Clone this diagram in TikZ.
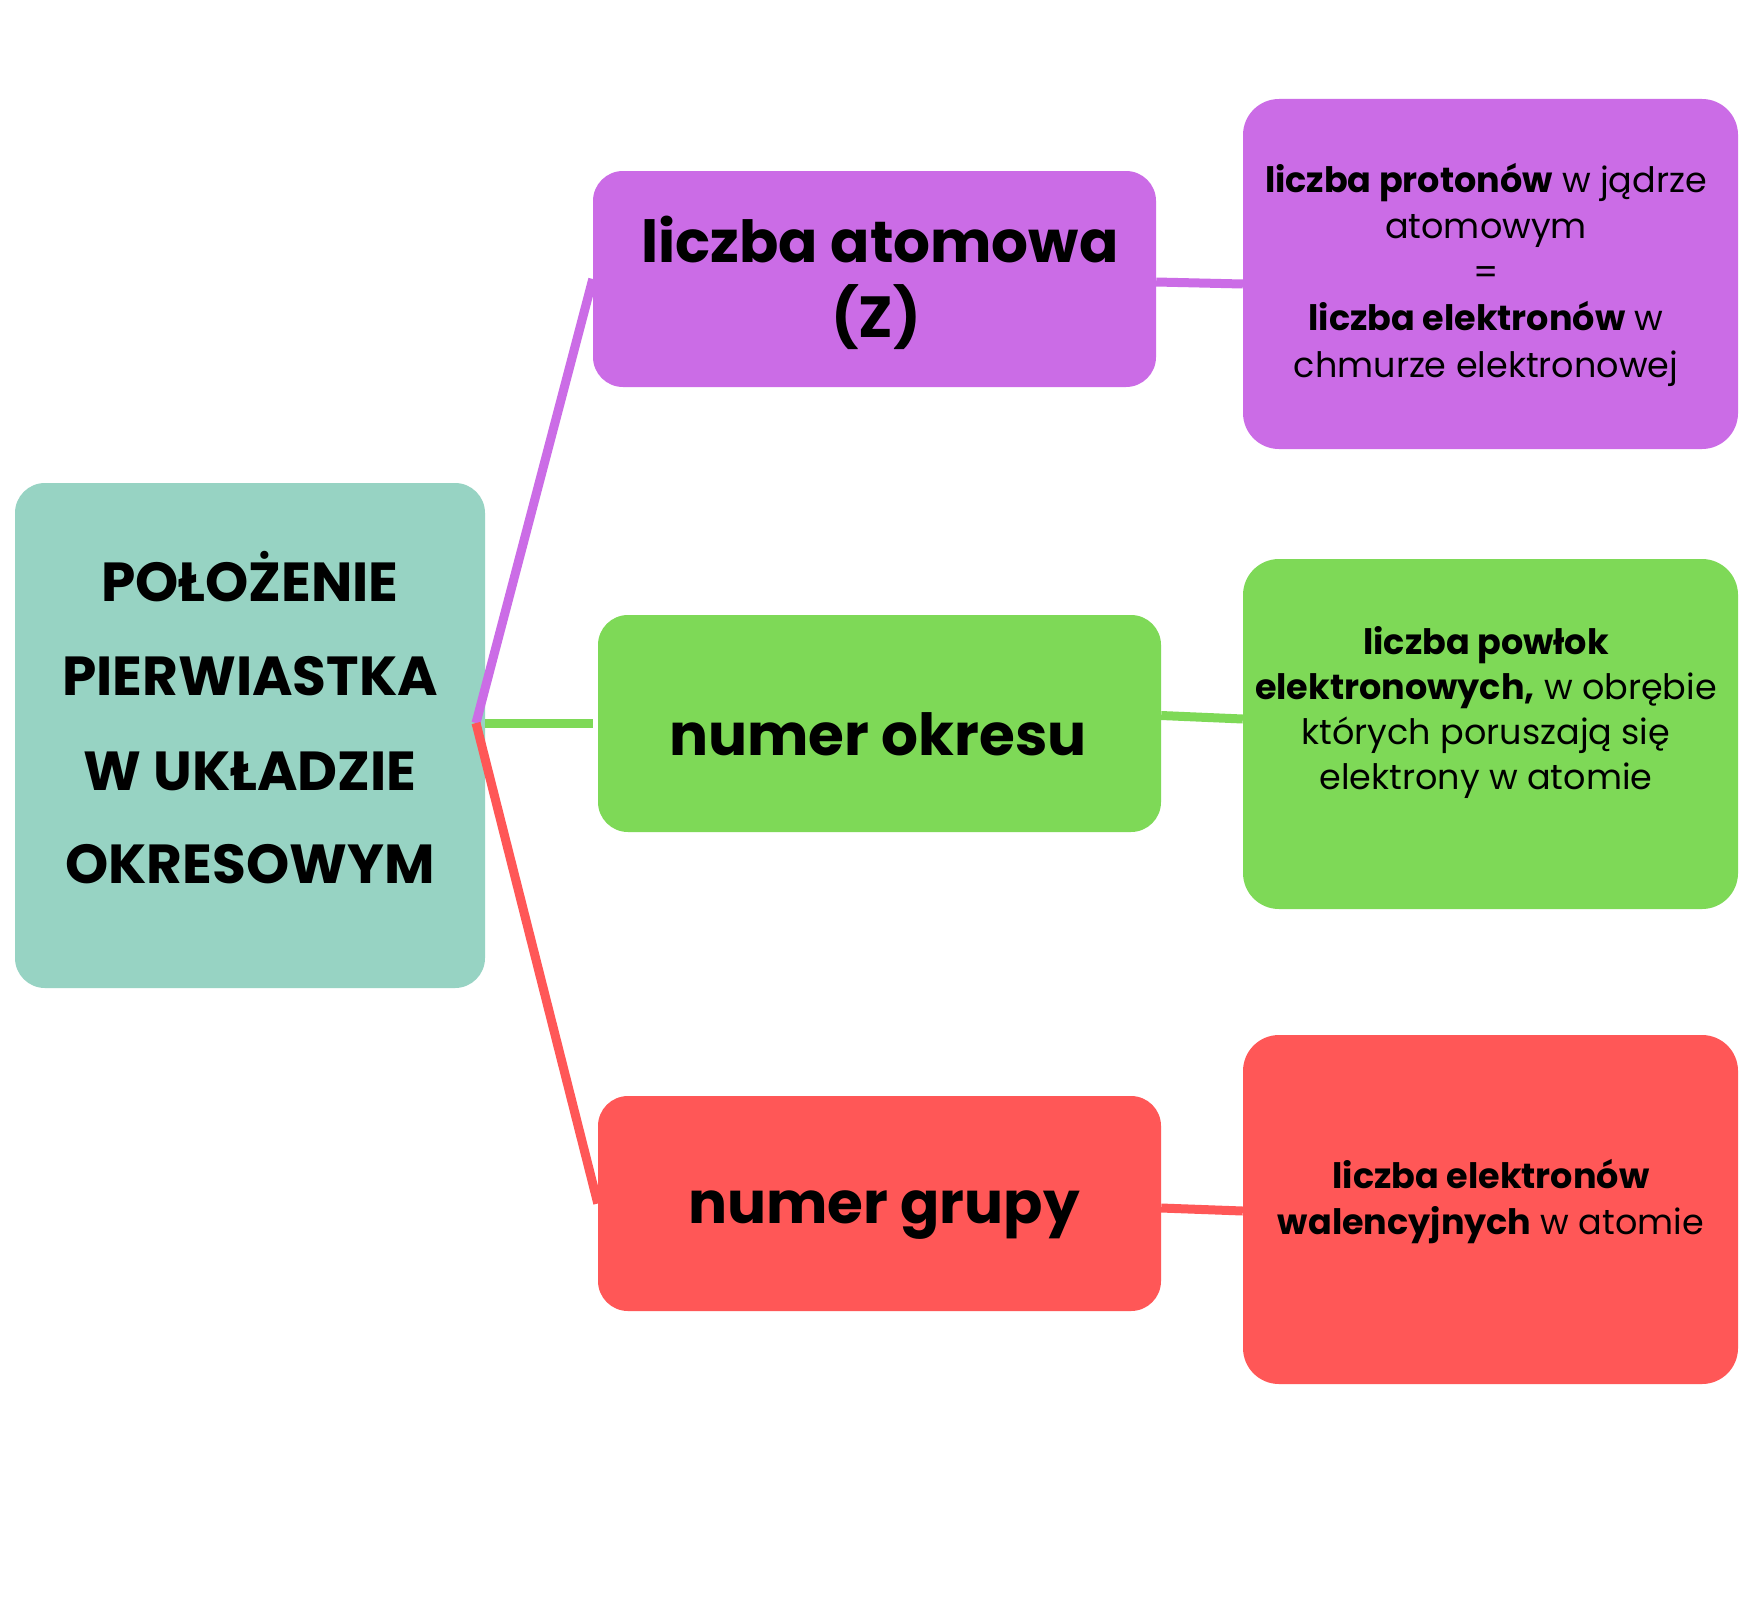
\documentclass[tikz,border=0pt]{standalone}
\usepackage{fontspec}
\setmainfont{Poppins}
\usetikzlibrary{calc}
\definecolor{cpurple}{HTML}{CB6CE6}
\definecolor{cgreen}{HTML}{7ED957}
\definecolor{cred}{HTML}{FF5757}
\definecolor{cteal}{HTML}{97D3C3}
\tikzset{
  box/.style={rounded corners=30pt, inner sep=0pt, draw=none},
  rbox/.style={rounded corners=36pt, inner sep=0pt, draw=none},
  conn/.style={line width=9pt},
  ttl/.style={anchor=base, inner sep=0pt, font=\fontsize{55}{62}\selectfont\bfseries},
  mid/.style={anchor=base, inner sep=0pt, font=\fontsize{58}{66}\selectfont\bfseries},
  rt/.style={anchor=base, inner sep=0pt, font=\fontsize{35}{42}\selectfont},
}
\begin{document}
\begin{tikzpicture}[x=1pt,y=-1pt]
\useasboundingbox[fill=white] (0,0) rectangle (1760,1600);
% main box
\node[box, fill=cteal, minimum width=470pt, minimum height=505pt] (main) at (250,735.5) {};
% middle boxes
\node[box, fill=cpurple, minimum width=563pt, minimum height=216pt] (pm) at (874.5,279) {};
\node[box, fill=cgreen, minimum width=563pt, minimum height=217pt] (gm) at (879.5,723.5) {};
\node[box, fill=cred, minimum width=563pt, minimum height=215pt] (rm) at (879.5,1203.5) {};
% right boxes
\node[rbox, fill=cpurple, minimum width=495pt, minimum height=350pt] (pr) at (1490.5,274) {};
\node[rbox, fill=cgreen, minimum width=495pt, minimum height=350pt] (gr) at (1490.5,734) {};
\node[rbox, fill=cred, minimum width=495pt, minimum height=349pt] (rr) at (1490.5,1209.5) {};
% connectors
\coordinate (hub) at (476,723);
\draw[conn, cpurple] (hub) -- (pm.west);
\draw[conn, cred] (hub) -- (rm.west);
\draw[conn, cgreen] (main.east |- gm.west) -- ($(gm.west)+(-5,0)$);
\draw[conn, cpurple] ($(pm.east)+(0,3)$) -- ($(pr.west)+(0,10)$);
\draw[conn, cgreen] ($(gm.east)+(0,-8)$) -- ($(gr.west)+(0,-15)$);
\draw[conn, cred] ($(rm.east)+(0,4.5)$) -- ($(rr.west)+(0,1.5)$);
% title text
\node[ttl] (t1) at (250,601) {POŁOŻENIE};
\node[ttl] (t2) at (250,695) {PIERWIASTKA};
\node[ttl] (t3) at (250,790) {W UKŁADZIE};
\node[ttl] (t4) at (250,883) {OKRESOWYM};
% middle labels
\node[mid] (m1) at (880,262) {liczba atomowa};
\node[mid] (m2) at (876,337) {(Z)};
\node[mid] (m3) at (878,755) {numer okresu};
\node[mid] (m4) at (884,1223) {numer grupy};
% right texts
\node[rt] (p1) at (1486,192) {\textbf{liczba protonów} w jądrze};
\node[rt] (p2) at (1486,238) {atomowym};
\node[rt] (p3) at (1486,284) {=};
\node[rt] (p4) at (1486,330) {\textbf{liczba elektronów} w};
\node[rt] (p5) at (1486,377) {chmurze elektronowej};
\node[rt] (g1) at (1486,654) {\textbf{liczba powłok}};
\node[rt] (g2) at (1486,699) {\textbf{elektronowych,} w obrębie};
\node[rt] (g3) at (1486,744) {których poruszają się};
\node[rt] (g4) at (1486,789) {elektrony w atomie};
\node[rt] (r1) at (1491,1188) {\textbf{liczba elektronów}};
\node[rt] (r2) at (1491,1234) {\textbf{walencyjnych} w atomie};
\end{tikzpicture}
\end{document}
